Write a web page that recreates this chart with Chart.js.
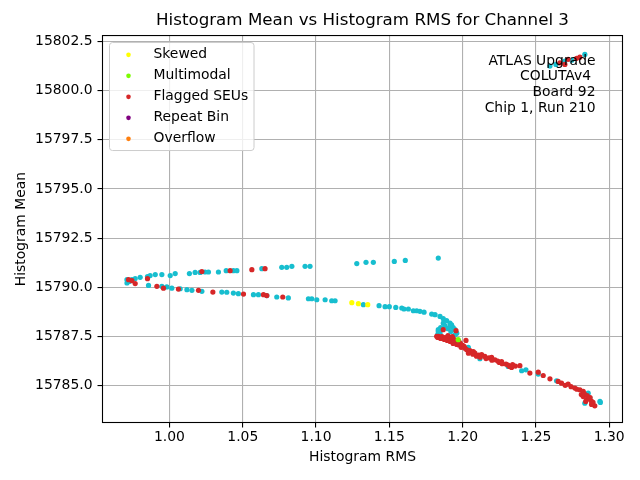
<!DOCTYPE html>
<html>
<head>
<meta charset="utf-8">
<title>Histogram Mean vs Histogram RMS</title>
<script src="https://cdn.jsdelivr.net/npm/chart.js@4.4.0/dist/chart.umd.min.js"></script>
<style>
  html, body { margin: 0; padding: 0; background: #fff; }
</style>
</head>
<body>
<canvas id="chart" width="640" height="480"></canvas>
<script>
// [rms, mean] pairs
const normalPoints = [
  // upper branch
  [0.9710, 15790.39], [0.9710, 15790.22], [0.9725, 15790.30], [0.9744, 15790.40], [0.9766, 15790.45],
  [0.9800, 15790.51], [0.9850, 15790.55], [0.9868, 15790.60], [0.9903, 15790.65], [0.9948, 15790.65],
  [1.0005, 15790.60], [1.0039, 15790.70], [1.0136, 15790.70], [1.0175, 15790.76], [1.0209, 15790.76],
  [1.0243, 15790.78], [1.0266, 15790.78], [1.0334, 15790.78], [1.0387, 15790.85], [1.0436, 15790.85],
  [1.0460, 15790.85], [1.0630, 15790.95], [1.0766, 15791.02], [1.0800, 15791.02], [1.0835, 15791.07],
  [1.0925, 15791.07], [1.0959, 15791.07], [1.1278, 15791.21], [1.1341, 15791.27], [1.1391, 15791.27],
  [1.1534, 15791.32], [1.1609, 15791.37], [1.1834, 15791.49],
  // lower branch
  [0.9857, 15790.10], [0.9948, 15790.05], [0.9982, 15790.02], [1.0016, 15789.96], [1.0073, 15789.93],
  [1.0119, 15789.88], [1.0153, 15789.85], [1.0221, 15789.80], [1.0357, 15789.76], [1.0391, 15789.75],
  [1.0436, 15789.71], [1.0470, 15789.68], [1.0573, 15789.63], [1.0607, 15789.63], [1.0664, 15789.58],
  [1.0732, 15789.51], [1.0811, 15789.46], [1.0948, 15789.42], [1.0971, 15789.42], [1.1005, 15789.37],
  [1.1062, 15789.37], [1.1107, 15789.32], [1.1130, 15789.32], [1.1323, 15789.12], [1.1430, 15789.07],
  [1.1471, 15789.02], [1.1500, 15789.02], [1.1544, 15788.98], [1.1585, 15788.95], [1.1600, 15788.90],
  [1.1630, 15788.90], [1.1664, 15788.81], [1.1687, 15788.81], [1.1709, 15788.78], [1.1737, 15788.74],
  [1.1789, 15788.64], [1.1812, 15788.61], [1.1846, 15788.52], [1.1868, 15788.41], [1.1891, 15788.31],
  [1.1914, 15788.18], [1.1925, 15788.10], [1.1936, 15787.96], [1.1948, 15787.85], [1.1960, 15787.67],
  [1.1868, 15788.18], [1.1914, 15788.02], [1.1850, 15787.95], [1.1880, 15788.05], [1.1900, 15787.90],
  [1.1920, 15787.75], [1.1950, 15787.60], [1.1830, 15787.60], [1.1834, 15787.85], [1.1846, 15787.67],
  [1.1834, 15787.76],
  // under the flagged tail
  [1.2039, 15786.95], [1.2118, 15786.37], [1.2311, 15785.98], [1.2403, 15785.76], [1.2432, 15785.81],
  [1.2516, 15785.59], [1.2641, 15785.25], [1.2857, 15784.62], [1.2868, 15784.37], [1.2937, 15784.20],
  [1.2834, 15784.11], [1.2940, 15784.15],
  // top right group
  [1.2596, 15801.25], [1.2637, 15801.33], [1.2698, 15801.50], [1.2745, 15801.55], [1.2834, 15801.84]
];

const seuPoints = [
  [0.9721, 15790.39], [0.9744, 15790.34], [0.9766, 15790.19], [0.9850, 15790.44], [1.0221, 15790.80],
  [1.0414, 15790.85], [1.0562, 15790.90], [1.0652, 15790.95],
  [0.9914, 15790.05], [0.9959, 15789.96], [1.0061, 15789.91], [1.0198, 15789.85], [1.0296, 15789.76],
  [1.0505, 15789.66], [1.0641, 15789.63], [1.0664, 15789.58], [1.0773, 15789.51],
  [1.1868, 15787.85], [1.1955, 15787.80], [1.1823, 15787.51], [1.1834, 15787.51], [1.1857, 15787.46],
  [1.1868, 15787.42], [1.1891, 15787.42], [1.1902, 15787.42], [1.1925, 15787.34], [1.1936, 15787.39],
  [1.1948, 15787.25], [1.1960, 15787.30], [1.2023, 15787.30], [1.1970, 15787.08], [1.1994, 15787.00],
  [1.1840, 15787.48], [1.1860, 15787.50], [1.1880, 15787.45], [1.1910, 15787.38], [1.1920, 15787.45],
  [1.1950, 15787.32], [1.1985, 15787.15], [1.2000, 15787.05], [1.1975, 15787.25],
  [1.1830, 15787.45], [1.1850, 15787.40], [1.1875, 15787.35], [1.1895, 15787.30], [1.1915, 15787.25],
  [1.1935, 15787.15], [1.1960, 15787.10], [1.1990, 15786.95], [1.2010, 15787.00], [1.1900, 15787.55],
  [1.1930, 15787.50],
  [1.2016, 15786.91], [1.2028, 15786.83], [1.2050, 15786.78], [1.2062, 15786.71], [1.2073, 15786.74],
  [1.2084, 15786.66], [1.2110, 15786.55], [1.2130, 15786.58], [1.2152, 15786.49], [1.2180, 15786.42],
  [1.2198, 15786.44], [1.2198, 15786.40], [1.2221, 15786.32], [1.2250, 15786.18], [1.2266, 15786.23],
  [1.2040, 15786.65], [1.2070, 15786.60], [1.2095, 15786.50], [1.2120, 15786.45], [1.2160, 15786.38],
  [1.2200, 15786.30], [1.2240, 15786.25], [1.2270, 15786.12], [1.2320, 15785.98], [1.2360, 15786.00],
  [1.2296, 15786.10], [1.2310, 15786.05], [1.2341, 15786.07], [1.2334, 15785.93], [1.2391, 15786.02],
  [1.2459, 15785.64], [1.2516, 15785.69], [1.2550, 15785.52], [1.2596, 15785.35], [1.2652, 15785.22],
  [1.2675, 15785.13], [1.2700, 15785.02], [1.2720, 15785.08], [1.2740, 15784.95], [1.2766, 15784.88],
  [1.2780, 15784.82], [1.2800, 15784.79], [1.2810, 15784.55], [1.2823, 15784.71], [1.2823, 15784.45],
  [1.2846, 15784.29], [1.2860, 15784.35], [1.2880, 15784.20], [1.2890, 15784.15], [1.2902, 15783.98],
  [1.2830, 15784.60], [1.2850, 15784.50], [1.2870, 15784.40], [1.2880, 15784.05], [1.2840, 15784.20],
  [1.2664, 15801.41], [1.2698, 15801.33], [1.2720, 15801.59], [1.2778, 15801.64], [1.2800, 15801.70]
];

const skewedPoints = [[1.1244, 15789.22], [1.1289, 15789.17], [1.1353, 15789.12]];
const multimodalPoints = [[1.1970, 15787.34]];
const repeatBinPoints = [];
const overflowPoints = [];

const infoLines = ["ATLAS Upgrade", "COLUTAv4 ", "Board 92", "Chip 1, Run 210"];

const toXY = pts => pts.map(p => ({ x: p[0], y: p[1] }));

Chart.defaults.font.family = "'DejaVu Sans', sans-serif";
Chart.defaults.color = "#000";

const FS = 13.9;

// text block in the upper right corner
const infoText = {
  id: "infoText",
  afterDatasetsDraw(chart) {
    const { ctx, chartArea } = chart;
    ctx.save();
    ctx.font = FS + "px 'DejaVu Sans'";
    ctx.fillStyle = "#000";
    ctx.textAlign = "right";
    ctx.textBaseline = "middle";
    infoLines.forEach((line, i) => {
      ctx.fillText(line, chartArea.right - 27, chartArea.top + 25.5 + i * 15.8);
    });
    ctx.restore();
  }
};

// frame + matplotlib style legend
const frameAndLegend = {
  id: "frameAndLegend",
  afterDraw(chart) {
    const { ctx, chartArea: a } = chart;
    ctx.save();
    ctx.strokeStyle = "#000";
    ctx.lineWidth = 1.1;
    ctx.strokeRect(a.left, a.top, a.right - a.left, a.bottom - a.top);

    const x0 = a.left + 7, y0 = a.top + 7, w = 144.5, h = 108, r = 3;
    ctx.beginPath();
    ctx.roundRect(x0, y0, w, h, r);
    ctx.fillStyle = "rgba(255,255,255,0.8)";
    ctx.fill();
    ctx.strokeStyle = "#cccccc";
    ctx.lineWidth = 1;
    ctx.stroke();

    ctx.font = FS + "px 'DejaVu Sans'";
    ctx.textAlign = "left";
    ctx.textBaseline = "middle";
    chart.data.datasets.filter(d => d.label).forEach((d, i) => {
      const cy = y0 + 12.3 + i * 21;
      ctx.beginPath();
      ctx.arc(x0 + 19, cy, 2.3, 0, Math.PI * 2);
      ctx.fillStyle = d.backgroundColor;
      ctx.fill();
      ctx.fillStyle = "#000";
      ctx.fillText(d.label, x0 + 44, cy);
    });
    ctx.restore();
  }
};

const dot = (label, pts, color, order) => ({
  label: label,
  data: toXY(pts),
  backgroundColor: color,
  borderWidth: 0,
  pointRadius: 2.6,
  pointHoverRadius: 2.6,
  order: order
});

new Chart(document.getElementById("chart"), {
  type: "scatter",
  data: {
    datasets: [
      dot("Skewed", skewedPoints, "#ffff00", 3),
      dot("Multimodal", multimodalPoints, "#7cfc00", 1),
      dot("Flagged SEUs", seuPoints, "#d62728", 2),
      dot("Repeat Bin", repeatBinPoints, "#800080", 1),
      dot("Overflow", overflowPoints, "#ff7f0e", 1),
      dot("", normalPoints, "#17becf", 10)
    ]
  },
  options: {
    responsive: false,
    animation: false,
    devicePixelRatio: 1,
    layout: { padding: { left: 0, right: 17.5, top: 0, bottom: 0 } },
    plugins: {
      legend: { display: false },
      tooltip: { enabled: false },
      title: {
        display: true,
        fullSize: false,
        text: "Histogram Mean vs Histogram RMS for Channel 3",
        font: { size: 16.7, weight: "normal" },
        color: "#000",
        padding: { top: 11, bottom: 4.5 }
      }
    },
    scales: {
      x: {
        type: "linear",
        min: 0.9543,
        max: 1.3091,
        z: 1,
        ticks: {
          stepSize: 0.05,
          includeBounds: false,
          padding: 2,
          font: { size: FS },
          callback: v => v.toFixed(2)
        },
        grid: { color: "#b0b0b0", lineWidth: 1.1, tickColor: "#000", tickLength: 5, tickWidth: 1.1 },
        border: { display: false },
        title: { display: true, text: "Histogram RMS", font: { size: FS }, padding: 14.7 },
        afterFit: s => { s.height = 57.5; }
      },
      y: {
        type: "linear",
        min: 15783.13,
        max: 15802.8,
        z: 1,
        ticks: {
          stepSize: 2.5,
          includeBounds: false,
          padding: 5,
          font: { size: FS },
          callback: v => v.toFixed(1)
        },
        grid: { color: "#b0b0b0", lineWidth: 1.1, tickColor: "#000", tickLength: 5, tickWidth: 1.1 },
        border: { display: false },
        title: { display: true, text: "Histogram Mean", font: { size: FS }, padding: 12.7 },
        afterFit: s => { s.width = 102.5; }
      }
    }
  },
  plugins: [infoText, frameAndLegend]
});
</script>
</body>
</html>
